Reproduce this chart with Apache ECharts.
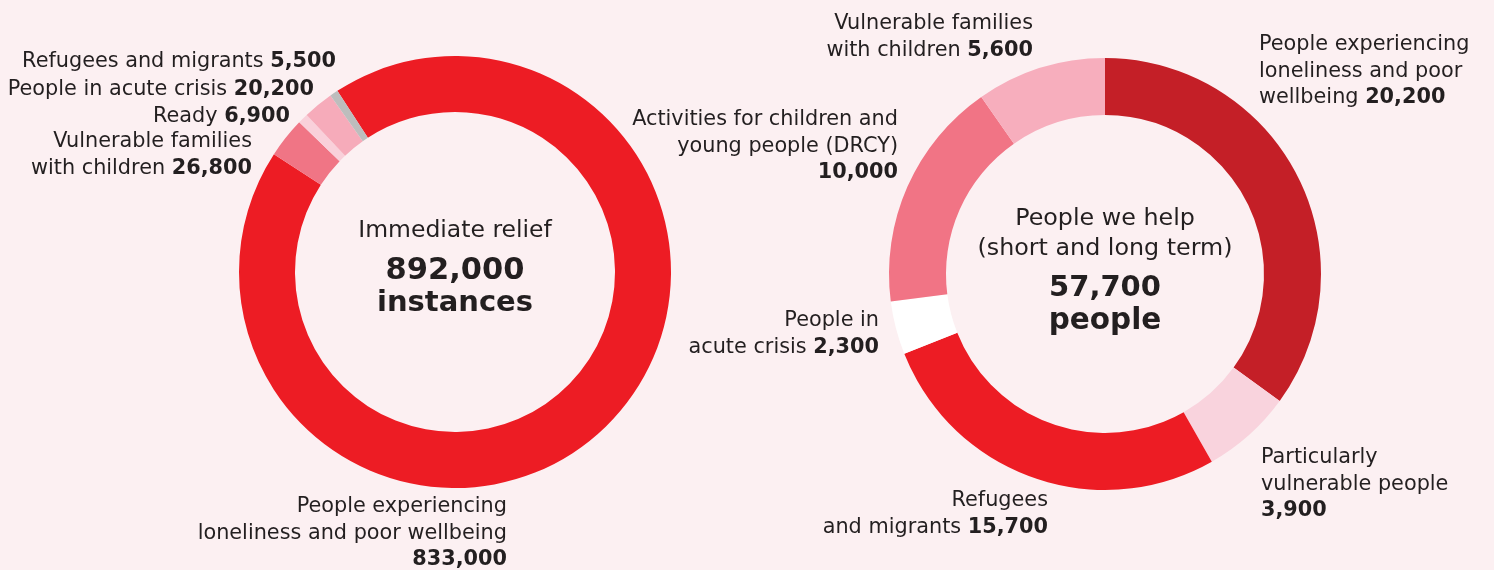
<!DOCTYPE html>
<html>
<head>
<meta charset="utf-8">
<script src="https://cdn.jsdelivr.net/npm/echarts@6/dist/echarts.min.js"></script>
<style>
html,body{margin:0;padding:0;background:#FCF0F2;}
#c{width:1494px;height:570px;}
</style>
</head>
<body>
<div id="c"></div>
<script>
// ---- Data ----
const reliefNames = [
  'People experiencing\nloneliness and poor wellbeing\n',
  'Vulnerable families\nwith children ',
  'Ready ',
  'People in acute crisis ',
  'Refugees and migrants '
];
const reliefValues = [833000, 26800, 6900, 20200, 5500];
const reliefTotal = '892,000';
const reliefTitle = 'Immediate relief';
const reliefUnit = 'instances';

const helpNames = [
  'People experiencing\nloneliness and poor\nwellbeing ',
  'Particularly\nvulnerable people\n',
  'Refugees\nand migrants ',
  'People in\nacute crisis ',
  'Activities for children and\nyoung people (DRCY)\n',
  'Vulnerable families\nwith children '
];
const helpValues = [20200, 3900, 15700, 2300, 10000, 5600];
const helpTotal = '57,700';
const helpTitle = 'People we help\n(short and long term)';
const helpUnit = 'people';

// ---- Styles / layout ----
const FONT = '"DejaVu Sans"';
const TXT = '#231F20';
const reliefColors = ['#ED1C24', '#F07585', '#F9D0DA', '#F6ABBA', '#BDBDBD'];
const helpColors = ['#C41F27', '#F9D3DD', '#ED1C24', '#FFFFFF', '#F17485', '#F7AEBD'];
// label anchor: [x, firstLineCenterY, align]
const reliefLabelPos = [[507, 507, 'right'], [252, 142, 'right'], [290, 117, 'right'], [314, 90, 'right'], [336, 62, 'right']];
const helpLabelPos = [[1259, 45, 'left'], [1261, 458, 'left'], [1048, 501, 'right'], [879, 321, 'right'], [898, 120, 'right'], [1033, 24, 'right']];
const LH = 26.5;
const FS = 20.8;

const fmt = v => v.toLocaleString('en-US');

function makeLabel() {
  return {
    show: true,
    position: 'outside',
    color: TXT,
    fontFamily: FONT,
    fontSize: FS,
    lineHeight: LH,
    formatter: p => p.name + '{b|' + fmt(p.value) + '}',
    rich: { b: { fontWeight: 'bold', fontSize: FS, lineHeight: LH, color: TXT, fontFamily: FONT } }
  };
}

function layoutFor(pos) {
  return p => {
    const a = pos[p.dataIndex];
    return { x: a[0], y: a[1] - LH / 2, align: a[2], verticalAlign: 'top', hideOverlap: false, moveOverlap: null };
  };
}

const chart = echarts.init(document.getElementById('c'), null, { renderer: 'canvas' });
chart.setOption({
  backgroundColor: '#FCF0F2',
  animation: false,
  series: [
    {
      type: 'pie',
      center: [455, 272],
      radius: [160, 216],
      startAngle: 123,
      clockwise: true,
      avoidLabelOverlap: false,
      emphasis: { disabled: true },
      itemStyle: { borderWidth: 0 },
      labelLine: { show: false },
      label: makeLabel(),
      labelLayout: layoutFor(reliefLabelPos),
      data: reliefNames.map((n, i) => ({ name: n, value: reliefValues[i], itemStyle: { color: reliefColors[i] } }))
    },
    {
      type: 'pie',
      center: [1105, 274],
      radius: [159, 216],
      startAngle: 90,
      clockwise: true,
      avoidLabelOverlap: false,
      emphasis: { disabled: true },
      itemStyle: { borderWidth: 0 },
      labelLine: { show: false },
      label: makeLabel(),
      labelLayout: layoutFor(helpLabelPos),
      data: helpNames.map((n, i) => ({ name: n, value: helpValues[i], itemStyle: { color: helpColors[i] } }))
    }
  ],
  graphic: [
    { type: 'text', x: 455, y: 231, style: { text: reliefTitle, fill: TXT, font: '23.5px ' + FONT, align: 'center', verticalAlign: 'middle' } },
    { type: 'text', x: 455, y: 271, style: { text: reliefTotal, fill: TXT, font: 'bold 30.5px ' + FONT, align: 'center', verticalAlign: 'middle' } },
    { type: 'text', x: 455, y: 303, style: { text: reliefUnit, fill: TXT, font: 'bold 29px ' + FONT, align: 'center', verticalAlign: 'middle' } },
    { type: 'text', x: 1105, y: 234, style: { text: helpTitle, fill: TXT, font: '23.8px ' + FONT, lineHeight: 30, align: 'center', verticalAlign: 'middle' } },
    { type: 'text', x: 1105, y: 288, style: { text: helpTotal, fill: TXT, font: 'bold 29px ' + FONT, align: 'center', verticalAlign: 'middle' } },
    { type: 'text', x: 1105, y: 321, style: { text: helpUnit, fill: TXT, font: 'bold 29.5px ' + FONT, align: 'center', verticalAlign: 'middle' } }
  ]
});
</script>
</body>
</html>
